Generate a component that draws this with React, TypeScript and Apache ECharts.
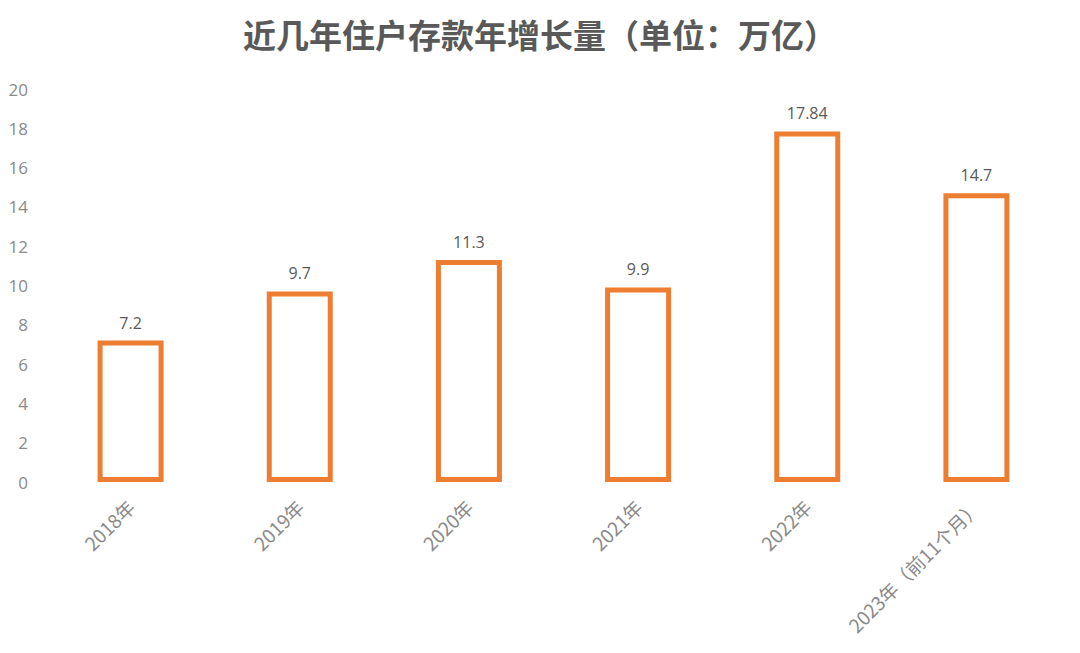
import React, { useEffect, useRef } from "react";
import * as echarts from "echarts";

const categories = ["2018年", "2019年", "2020年", "2021年", "2022年", "2023年（前11个月）"];
const values = [7.2, 9.7, 11.3, 9.9, 17.84, 14.7];
const titleText = "近几年住户存款年增长量（单位：万亿）";

export default function App() {
  const ref = useRef<HTMLDivElement>(null);
  useEffect(() => {
    document.body.style.margin = "0";
    const chart = echarts.init(ref.current!, null, { renderer: "svg" });
    chart.setOption({
      animation: false,
      backgroundColor: "#ffffff",
      title: {
        text: titleText,
        left: "center",
        top: 12,
        textStyle: {
          fontFamily: "Noto Sans CJK SC",
          fontSize: 33,
          fontWeight: "bold",
          color: "#595959",
        },
      },
      grid: { left: 46, right: 19, top: 89, bottom: 171 },
      xAxis: {
        type: "category",
        data: categories,
        axisLine: { show: false },
        axisTick: { show: false },
        axisLabel: {
          rotate: 45,
          margin: 21,
          color: "#8a8a8a",
          fontSize: 19,
          fontFamily: "Noto Sans CJK SC",
        },
      },
      yAxis: {
        type: "value",
        min: 0,
        max: 20,
        interval: 2,
        splitLine: { show: false },
        axisLine: { show: false },
        axisTick: { show: false },
        axisLabel: {
          color: "#8a8a8a",
          fontSize: 17,
          margin: 18,
          fontFamily: "Open Sans",
        },
      },
      series: [
        {
          type: "bar",
          data: values,
          barWidth: 66,
          itemStyle: {
            color: "#ffffff",
            borderColor: "#ED7D31",
            borderWidth: 5,
          },
          label: {
            show: true,
            position: "top",
            distance: 10,
            color: "#595959",
            fontSize: 16,
            fontFamily: "Open Sans",
          },
        },
      ],
    });
    return () => chart.dispose();
  }, []);
  return <div ref={ref} style={{ width: 1080, height: 653 }} />;
}
